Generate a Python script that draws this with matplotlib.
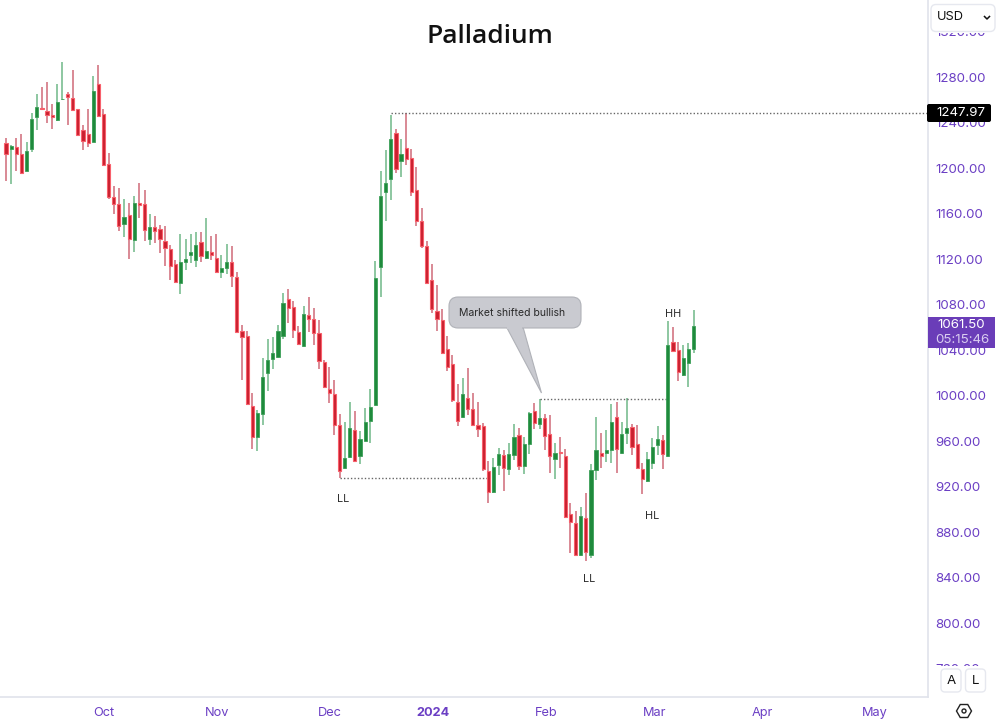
import matplotlib
matplotlib.use("Agg")
import matplotlib.pyplot as plt
import numpy as np
from matplotlib.patches import FancyBboxPatch, Polygon, Rectangle, RegularPolygon, Circle

plt.rcParams['font.family'] = ['Inter', 'DejaVu Sans']

# daily candles
opens = [1221.7, 1216.4, 1218.7, 1212.0, 1197.6, 1216.4, 1244.5, 1252.7, 1250.4, 1246.6,
         1242.2, 1260.3, 1264.7, 1261.8, 1251.5, 1233.1, 1229.9, 1223.1, 1273.5, 1247.2,
         1203.8, 1174.5, 1168.6, 1151.0, 1159.0, 1137.0, 1168.9, 1168.6, 1137.6, 1148.4,
         1146.1, 1135.8, 1128.8, 1115.3, 1098.9, 1117.6, 1123.5, 1119.1, 1135.2, 1120.9,
         1125.8, 1120.6, 1108.9, 1112.4, 1117.4, 1103.9, 1056.5, 1052.4, 990.8, 963.9,
         983.5, 1019.5, 1032.1, 1033.9, 1052.4, 1084.6, 1078.1, 1055.9, 1043.6, 1070.8,
         1067.0, 1054.7, 1029.8, 1006.1, 1001.1, 973.8, 936.0, 945.7, 969.4, 947.2,
         960.4, 977.9, 992.0, 1113.3, 1179.2, 1190.4, 1230.5, 1206.2, 1217.6, 1209.1,
         1180.4, 1153.7, 1131.8, 1101.3, 1074.3, 1066.4, 1040.6, 1027.7, 994.0, 981.2,
         997.9, 987.9, 973.8, 973.2, 933.4, 915.2, 939.2, 947.4, 935.7, 948.0,
         965.6, 938.4, 957.4, 986.7, 975.2, 980.2, 966.5, 944.5, 950.0, 946.8,
         895.9, 888.2, 859.8, 892.6, 859.8, 934.8, 949.2, 949.2, 952.1, 980.8,
         949.8, 967.3, 972.3, 957.4, 935.4, 924.6, 940.4, 956.2, 960.6, 946.8,
         1046.8, 1040.0, 1018.0, 1028.9, 1040.9]
highs = [1226.3, 1219.9, 1226.3, 1229.6, 1222.5, 1248.6, 1264.7, 1271.5, 1275.3, 1255.9,
         1273.5, 1293.4, 1266.5, 1285.8, 1252.1, 1238.1, 1251.5, 1281.1, 1290.2, 1252.1,
         1213.5, 1184.2, 1182.7, 1172.7, 1169.5, 1175.1, 1186.5, 1180.6, 1159.3, 1157.5,
         1150.2, 1149.3, 1132.6, 1119.1, 1141.7, 1137.3, 1142.0, 1143.4, 1144.0, 1156.3,
         1140.2, 1141.7, 1123.5, 1133.5, 1131.1, 1108.3, 1062.0, 1056.8, 1002.0, 987.3,
         1033.3, 1050.0, 1051.2, 1061.7, 1089.9, 1093.7, 1082.8, 1061.1, 1079.0, 1086.9,
         1077.0, 1066.4, 1031.3, 1024.8, 1013.4, 983.5, 976.8, 994.0, 986.7, 968.8,
         989.1, 1005.5, 1118.6, 1197.4, 1215.8, 1246.3, 1234.0, 1225.5, 1248.0, 1217.0,
         1201.2, 1164.6, 1136.2, 1115.9, 1096.9, 1075.8, 1052.6, 1035.4, 1010.5, 1015.4,
         1023.9, 1002.5, 994.6, 975.5, 942.1, 945.4, 953.9, 952.1, 958.6, 975.2,
         971.2, 963.8, 985.8, 993.1, 996.9, 984.0, 983.2, 958.0, 963.5, 953.0,
         905.2, 898.2, 902.0, 914.0, 940.0, 981.1, 967.3, 969.7, 992.2, 994.0,
         976.4, 997.5, 974.7, 974.4, 940.4, 950.0, 962.4, 973.2, 965.0, 1065.8,
         1060.5, 1047.3, 1044.4, 1045.9, 1075.2]
lows = [1188.8, 1185.9, 1197.6, 1194.7, 1197.6, 1213.7, 1233.4, 1251.0, 1239.8, 1234.0,
        1241.6, 1259.7, 1238.1, 1251.0, 1228.7, 1215.8, 1218.1, 1222.5, 1244.8, 1202.0,
        1172.4, 1159.5, 1144.3, 1139.6, 1120.3, 1126.4, 1155.7, 1136.1, 1132.6, 1134.3,
        1125.0, 1113.8, 1101.5, 1099.2, 1089.2, 1110.3, 1116.2, 1112.7, 1117.6, 1120.3,
        1119.1, 1107.4, 1103.6, 1106.8, 1095.1, 1055.0, 1013.7, 992.0, 953.3, 951.6,
        974.1, 1004.3, 1023.1, 1033.3, 1050.0, 1064.1, 1050.6, 1044.4, 1043.0, 1056.2,
        1044.2, 1023.1, 1006.6, 993.2, 965.0, 927.2, 935.4, 945.1, 942.2, 939.8,
        959.8, 958.6, 991.4, 1086.9, 1153.7, 1171.9, 1195.9, 1192.4, 1202.7, 1175.7,
        1149.0, 1129.7, 1098.6, 1072.3, 1057.0, 1036.5, 1021.9, 994.6, 973.2, 980.6,
        982.6, 973.2, 963.8, 933.9, 905.8, 914.6, 930.4, 916.4, 930.1, 943.3,
        934.5, 931.3, 948.6, 970.9, 970.9, 952.1, 932.2, 926.3, 936.3, 892.6,
        861.9, 858.9, 859.2, 854.2, 857.5, 925.7, 936.0, 941.3, 941.0, 932.2,
        948.9, 957.4, 948.0, 935.4, 913.4, 924.0, 935.7, 947.4, 935.7, 946.2,
        1038.9, 1012.5, 1017.4, 1007.8, 1037.7]
closes = [1212.3, 1219.3, 1212.3, 1195.3, 1215.2, 1243.3, 1253.9, 1251.5, 1246.3, 1244.5,
          1258.3, 1260.9, 1262.1, 1251.3, 1229.3, 1224.0, 1221.7, 1267.4, 1245.4, 1202.6,
          1174.2, 1168.6, 1148.7, 1157.2, 1137.3, 1169.2, 1167.7, 1145.2, 1148.4, 1144.6,
          1137.6, 1129.4, 1113.8, 1099.8, 1117.4, 1119.7, 1125.8, 1132.6, 1122.9, 1127.3,
          1123.8, 1108.9, 1111.8, 1117.1, 1105.0, 1055.6, 1051.8, 992.6, 963.6, 984.7,
          1016.0, 1031.0, 1037.4, 1056.8, 1081.4, 1077.3, 1057.9, 1045.0, 1071.7, 1067.6,
          1054.7, 1030.1, 1007.2, 1002.5, 974.4, 933.4, 944.8, 971.2, 942.8, 961.8,
          976.8, 989.7, 1103.3, 1175.7, 1186.8, 1225.8, 1199.1, 1212.0, 1207.6, 1178.6,
          1153.7, 1131.5, 1099.2, 1076.4, 1067.6, 1037.1, 1025.1, 995.8, 977.9, 1001.1,
          987.9, 974.4, 970.6, 935.1, 914.9, 937.5, 948.6, 936.3, 948.3, 963.3,
          937.8, 957.4, 984.6, 976.1, 980.0, 964.4, 946.6, 949.5, 949.2, 893.2,
          888.8, 859.5, 894.0, 862.5, 934.5, 951.8, 946.6, 952.1, 976.7, 953.3,
          966.5, 971.2, 954.7, 936.0, 926.6, 944.2, 955.0, 961.8, 948.6, 1044.4,
          1039.4, 1020.7, 1032.7, 1041.2, 1061.4]

price_ticks = [760, 800, 840, 880, 920, 960, 1000, 1040, 1080, 1120, 1160, 1200, 1240, 1280, 1320]
month_pos = [19.1, 41.2, 63.2, 83.3, 105.3, 126.4, 147.4, 169.4]
month_labels = ['Oct', 'Nov', 'Dec', '2024', 'Feb', 'Mar', 'Apr', 'May']

PURPLE = '#6b3fc4'
GRID = '#e0e3eb'

fig = plt.figure(figsize=(10, 7.28), dpi=100)
ax = fig.add_axes([0, (728 - 696.5) / 728, 0.9275, 696.5 / 728])
ax.set_xlim(-1.17, 179.6)
ax.set_ylim(735.4, 1347.7)

opens, highs, lows, closes = map(np.array, (opens, highs, lows, closes))
x = np.arange(len(opens))
up = closes >= opens

ax.vlines(x[up], lows[up], highs[up], color='#6fb888', lw=1.1)
ax.vlines(x[~up], lows[~up], highs[~up], color='#cf6a78', lw=1.1)
ax.bar(x[up], (closes - opens)[up], bottom=opens[up], width=0.62,
       color='#1f8a3c', edgecolor='#3c9f58', lw=0.6, zorder=3)
ax.bar(x[~up], (closes - opens)[~up], bottom=opens[~up], width=0.62,
       color='#c9202f', edgecolor='#f8606c', lw=0.8, zorder=3)

# swing levels
dots = dict(color='#666666', lw=1.0, ls=(0, (1, 1.5)), zorder=2)
ax.plot([75, 179.6], [1247.97, 1247.97], **dots)
ax.plot([65, 94], [lows[65], lows[65]], **dots)
ax.plot([104, 129], [996.9, 996.9], **dots)

ax.yaxis.tick_right()
ax.set_yticks(price_ticks)
ax.set_yticklabels(['%.2f' % p for p in price_ticks])
ax.set_xticks(month_pos)
ax.set_xticklabels(month_labels)
ax.tick_params(axis='y', length=0, pad=5.8, labelsize=9.6, labelcolor=PURPLE)
ax.tick_params(axis='x', length=0, pad=7.5, labelsize=9.2, labelcolor=PURPLE)
ax.get_xticklabels()[3].set_fontweight('bold')
for s in ['top', 'left']:
    ax.spines[s].set_visible(False)
for s in ['right', 'bottom']:
    ax.spines[s].set_color(GRID)
    ax.spines[s].set_linewidth(1.2)

# overlay in screen pixels for the widgets and notes
ui = fig.add_axes([0, 0, 1, 1], zorder=5)
ui.set_xlim(0, 1000)
ui.set_ylim(728, 0)
ui.axis('off')

ui.text(489.5, 36.5, 'Palladium', ha='center', va='center', fontsize=19,
        family=['Open Sans', 'DejaVu Sans'], fontweight='semibold', color='#111111')

for lx, ly, t in [(343, 499, 'LL'), (589, 579, 'LL'), (652, 516, 'HL'), (673, 314, 'HH')]:
    ui.text(lx, ly, t, ha='center', va='center', fontsize=7.8, color='#2a2a2a')

# callout
ui.add_patch(Polygon([(506.5, 327), (523, 327), (541.5, 393)], closed=True,
                     fc='#c9cad0', ec='#b0b2b8', lw=0.8))
ui.add_patch(FancyBboxPatch((455, 303), 120, 19, boxstyle='round,pad=6,rounding_size=9',
                            fc='#c9cad0', ec='#b0b2b8', lw=0.8))
ui.add_patch(Rectangle((507.2, 325), 15.2, 4, fc='#c9cad0', ec='none'))
ui.text(512.5, 312.5, 'Market shifted bullish', ha='center', va='center',
        fontsize=7.55, color='#2a2a2a')

# price tags
ui.add_patch(FancyBboxPatch((928, 105), 62, 16, boxstyle='round,pad=1,rounding_size=2',
                            fc='black', ec='none'))
ui.text(960.5, 113, '1247.97', ha='center', va='center', fontsize=9.6, color='white')
ui.add_patch(Rectangle((927.5, 317), 67.5, 31, fc='#6a3db8', ec='none'))
ui.text(961, 325.5, '1061.50', ha='center', va='center', fontsize=9.6, color='white')
ui.text(962, 340, '05:15:46', ha='center', va='center', fontsize=9.6, color='#d9cdf0')

# currency box, hides most of the top label
ui.add_patch(Rectangle((929, 0), 70, 33, fc='white', ec='none'))
ui.add_patch(FancyBboxPatch((933, 6.5), 60, 23, boxstyle='round,pad=2,rounding_size=5',
                            fc='white', ec='#e6e8ef', lw=1))
ui.text(936.5, 17.5, 'USD', ha='left', va='center', fontsize=9.2, color='#111111')
ui.plot([984.5, 987, 989.5], [16.5, 19, 16.5], color='#111111', lw=1.1)

# auto / log buttons, hide most of the bottom label
ui.add_patch(Rectangle((929, 666), 70, 30, fc='white', ec='none'))
for bx, t in [(941, 'A'), (965.5, 'L')]:
    ui.add_patch(FancyBboxPatch((bx + 2, 671), 16, 19, boxstyle='round,pad=2,rounding_size=4',
                                fc='white', ec='#e6e8ef', lw=1))
    ui.text(bx + 10, 681, t, ha='center', va='center', fontsize=9.6, color='#111111')

ui.add_patch(RegularPolygon((964, 711), 6, radius=7.5, orientation=np.pi / 6,
                            fc='none', ec='#222222', lw=1))
ui.add_patch(Circle((964, 711), 2, fc='none', ec='#222222', lw=1))

fig.savefig('out.png', dpi=100)
